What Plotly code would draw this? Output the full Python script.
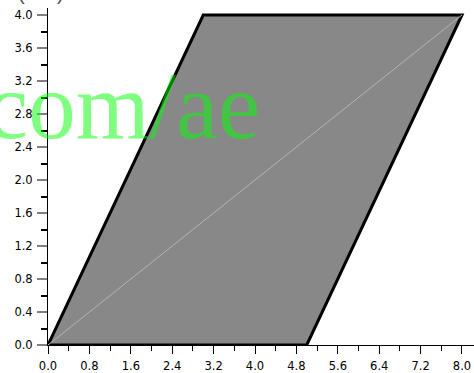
import plotly.graph_objects as go

# Data
poly_x = [0.0, 5.0, 8.0, 3.0, 0.0]
poly_y = [0.0, 0.0, 4.0, 4.0, 0.0]
diag_x = [0.0, 8.0]
diag_y = [0.0, 4.0]
x_ticks = [0.0, 0.8, 1.6, 2.4, 3.2, 4.0, 4.8, 5.6, 6.4, 7.2, 8.0]
x_labels = ["0.0", "0.8", "1.6", "2.4", "3.2", "4.0", "4.8", "5.6", "6.4", "7.2", "8.0"]
y_ticks = [0.0, 0.4, 0.8, 1.2, 1.6, 2.0, 2.4, 2.8, 3.2, 3.6, 4.0]
y_labels = ["0.0", "0.4", "0.8", "1.2", "1.6", "2.0", "2.4", "2.8", "3.2", "3.6", "4.0"]
watermark = "com/ae"
corner_label = "(m/s)"

fig = go.Figure()
fig.add_trace(go.Scatter(x=poly_x, y=poly_y, mode="lines", fill="toself",
                         fillcolor="#888888", line=dict(color="black", width=3),
                         hoverinfo="skip", showlegend=False))
fig.add_trace(go.Scatter(x=diag_x, y=diag_y, mode="lines",
                         line=dict(color="#b4b4b4", width=1),
                         hoverinfo="skip", showlegend=False))

fig.add_annotation(text=watermark, xref="x", yref="y", x=4.04, y=2.9, xshift=5,
                   xanchor="right", yanchor="middle", showarrow=False,
                   font=dict(family="Liberation Serif", size=95, color="rgba(0,255,0,0.5)"))
fig.add_annotation(text=corner_label, xref="paper", yref="paper", x=-0.016, y=1,
                   xanchor="center", yanchor="bottom", yshift=2.5, showarrow=False,
                   font=dict(family="Liberation Sans", size=20, color="#555"))

axis_font = dict(family="DejaVu Sans", size=11.5, color="black")
fig.update_xaxes(range=[0, 8.232], tickvals=x_ticks, ticktext=x_labels,
                 ticks="outside", ticklen=8, tickwidth=1, tickcolor="black",
                 ticklabelstandoff=2,
                 showline=True, linecolor="black", linewidth=1, automargin=False,
                 showgrid=False, zeroline=False, tickfont=axis_font,
                 minor=dict(tickvals=[0.4 + 0.8 * i for i in range(10)], ticks="outside",
                            ticklen=5, tickcolor="black", showgrid=False))
fig.update_yaxes(range=[0, 4.085], tickvals=y_ticks, ticktext=y_labels,
                 ticks="outside", ticklen=10, tickwidth=1.5, tickcolor="#808080",
                 ticklabelstandoff=2,
                 showline=True, linecolor="black", linewidth=1, automargin=False,
                 showgrid=False, zeroline=False, tickfont=axis_font,
                 minor=dict(tickvals=[0.2 + 0.4 * i for i in range(10)], ticks="outside",
                            ticklen=6, tickcolor="black", showgrid=False))

fig.update_layout(width=474, height=373, margin=dict(l=48, r=0, t=8, b=28),
                  plot_bgcolor="white", paper_bgcolor="white", showlegend=False)

fig.write_html("out.html", config={"displayModeBar": False},
               post_script="document.body.style.margin='0';document.body.style.overflow='hidden';")
